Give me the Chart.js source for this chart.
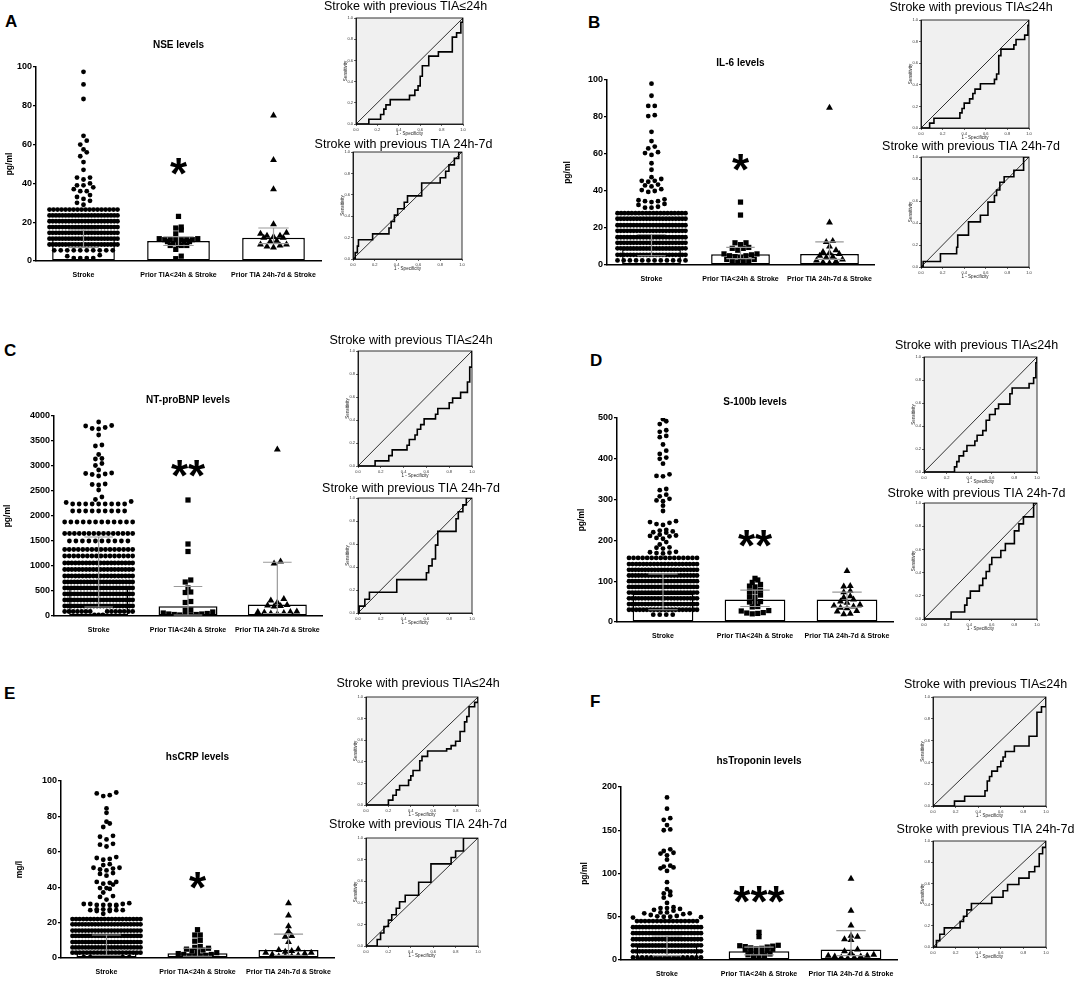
<!DOCTYPE html>
<html>
<head>
<meta charset="utf-8">
<script src="https://cdn.jsdelivr.net/npm/chart.js@4.4.1/dist/chart.umd.min.js"></script>
<style>
  body { margin: 0; background: #fff; width: 1074px; height: 1000px; position: relative; overflow: hidden; }
  .box { position: absolute; }
  .letter { position: absolute; font: bold 17px "Liberation Sans", Arial, sans-serif; line-height: 17px; color: #000; }
</style>
</head>
<body>
<div class="letter" style="left:5px;top:13px">A</div>
<div class="letter" style="left:588px;top:14px">B</div>
<div class="letter" style="left:4px;top:342px">C</div>
<div class="letter" style="left:590px;top:352px">D</div>
<div class="letter" style="left:4px;top:685px">E</div>
<div class="letter" style="left:590px;top:693px">F</div>

<script>
const groups = ['Stroke', 'Prior TIA<24h & Stroke', 'Prior TIA 24h-7d & Stroke'];

// NSE (pg/ml)
const nseStrokeOut = [97.5, 91, 83.5, 64.5, 62, 60, 57.5, 56, 54, 51, 47, 43, 43, 42, 40, 39, 39, 38, 37, 36, 36, 34, 33, 32, 31, 30, 29, 3, 2.5, 1.5, 1.5, 1.5, 1.5];
const nseStrokeRows = [[26.5, 18], [23.5, 22], [20.5, 22], [17.5, 22], [14.5, 22], [11.5, 22], [8.5, 22], [5.5, 10]];
const nseTia24 = [23, 17.5, 17, 16, 14, 11.5, 11.5, 11, 11, 11, 11, 11, 11, 10, 10, 10, 9, 8.5, 8, 8, 8, 6, 2.5, 1.2];
const nseTia7d = [75, 52, 37, 19, 14.5, 14, 13, 13, 12.5, 12, 12, 10.5, 10, 8.5, 8.5, 8, 7.5, 7];
const nseBars = [11.7, 10.3, 12];
const nseErrLo = [7, 8, 9];
const nseErrHi = [16, 12.5, 17];

// IL-6 (pg/ml)
const il6StrokeOut = [98, 91.5, 86, 86, 81, 80.5, 72, 67, 64, 63, 61, 60.5, 59.5, 55, 51.5, 47.5, 46.5, 45.5, 45.5, 45, 43.5, 43, 42.5, 41, 40.5, 40, 39.5, 35.5, 35, 34.5, 34.5, 34, 33, 32.5, 31.5, 31, 31];
const il6StrokeRows = [[28, 20], [25, 22], [21.5, 22], [18.5, 22], [15, 22], [12, 22], [9, 22], [5.5, 22], [2.5, 12]];
const il6Tia24 = [34, 27, 12, 12, 11, 9.5, 9, 9, 8, 6, 6, 5.5, 5, 5, 4.5, 4, 3, 3, 2, 2, 2, 1.5];
const il6Tia7d = [85, 23, 13, 12.5, 10, 8, 7, 6.5, 6, 5, 4.5, 4, 3, 2.5, 2, 1.5, 1];
const il6Bars = [8.5, 5.8, 6];
const il6ErrLo = [5, 3.5, 3];
const il6ErrHi = [16.5, 9.5, 12.5];

// NT-proBNP (pg/ml)
const bnpStrokeOut = [3880, 3810, 3800, 3770, 3750, 3740, 3620, 3420, 3400, 3230, 3150, 3140, 3050, 3010, 2920, 2860, 2850, 2840, 2830, 2800, 2640, 2630, 2620, 2520, 2380, 2330, 2290, 2270];
const bnpStrokeRows = [[2240, 9], [2100, 9], [1880, 12], [1650, 15], [1500, 10], [1330, 16], [1200, 16], [1060, 20], [930, 20], [800, 20], [680, 22], [560, 22], [440, 22], [320, 22], [200, 22], [90, 14], [20, 3]];
const bnpTia24 = [2320, 1440, 1290, 720, 680, 560, 480, 470, 290, 270, 120, 110, 80, 60, 50, 40, 40, 30, 30, 20, 20, 10];
const bnpTia7d = [3330, 1090, 1050, 340, 310, 270, 220, 210, 200, 190, 90, 80, 80, 70, 60, 50, 40];
const bnpBars = [550, 195, 230];
const bnpErrLo = [180, 20, 50];
const bnpErrHi = [1580, 590, 1075];

// S-100b (pg/ml)
const s100StrokeOut = [497, 492, 485, 470, 466, 456, 453, 435, 420, 412, 403, 400, 388, 362, 358, 357, 326, 323, 312, 308, 302, 298, 296, 285, 272, 247, 245, 243, 240, 238, 226, 224, 222, 220, 219, 214, 212, 211, 210, 206, 204, 196, 190, 183, 182, 180, 172, 171, 170, 169, 168];
const s100StrokeRows = [[157, 16], [142, 20], [128, 22], [114, 22], [100, 22], [86, 22], [72, 22], [58, 22], [44, 22], [30, 20], [18, 4]];
const s100Tia24 = [107, 103, 97, 92, 88, 86, 78, 75, 74, 66, 62, 60, 50, 49, 48, 38, 37, 28, 27, 23, 22, 21, 20];
const s100Tia7d = [125, 88, 87, 76, 73, 63, 60, 55, 50, 47, 42, 40, 38, 35, 34, 27, 26, 20, 19];
const s100Bars = [69, 55, 55];
const s100ErrLo = [30, 38, 36];
const s100ErrHi = [118, 78, 73];

// hsCRP (mg/l)
const crpStrokeOut = [93.5, 93, 92, 91.5, 84.5, 82, 77, 76, 74, 69, 68.5, 67, 64.5, 64, 63, 57, 56.5, 56, 55.5, 53, 52.5, 51, 51, 50.5, 50, 49.5, 48, 47.5, 46.5, 43, 43, 42.5, 42, 41.5, 39.5, 39.5, 39, 37, 35, 34.5, 33, 31, 30.5, 30.5, 30.5, 30, 30, 30, 30, 29.5, 27.5, 27.5, 27.5, 27, 27, 27, 26.5, 26.5, 25];
const crpStrokeRows = [[22, 20], [19, 22], [15.5, 22], [12.5, 22], [9, 22], [6, 22], [3, 20], [0.5, 8]];
const crpTia24 = [16, 13, 13, 10, 9.5, 6.5, 6, 5.5, 5, 4.5, 4, 3.5, 3, 2.5, 2, 2, 1.5, 1, 1, 1];
const crpTia7d = [31, 24, 18, 15, 12.5, 12, 9, 5, 4.5, 4, 3.5, 3, 3, 2.5, 2, 1.5, 1, 1, 1];
const crpBars = [4, 2.7, 4.5];
const crpErrLo = [1.5, 1, 1.5];
const crpErrHi = [13, 5.5, 13.5];

// hsTroponin (pg/ml)
const tropStrokeOut = [188, 175, 164, 162, 156, 151, 150, 128, 126, 124, 123, 121, 116, 109, 108, 107, 106, 103, 90, 82, 79, 77, 75, 72, 66, 61, 60, 60, 59, 58, 57, 55, 55, 54, 54, 53, 52, 51, 50.5, 50, 50, 49.5, 49];
const tropStrokeRows = [[45, 16], [38, 22], [31, 22], [24, 22], [17, 22], [10, 22], [3, 16]];
const tropTia24 = [32, 27, 17, 16.5, 16, 15.5, 15, 14, 13.5, 13, 12.5, 12, 11, 10, 9, 8, 7, 6, 5, 4, 3];
const tropTia7d = [94, 57, 40, 28, 27, 24, 23, 12, 10, 8, 6, 5, 5, 4, 4, 3, 3, 2];
const tropBars = [16, 10, 12];
const tropErrLo = [5, 6, 5];
const tropErrHi = [28, 15, 34];

// significance marks over the middle group
const starMarks = ['*', '*', '**', '**', '*', '***'];
const starLevels = [50, 57, 3000, 210, 45, 79];

// ROC curves: [1 - specificity, sensitivity] at each step
const rocNse24 = [[0,0],[0.12,0.045],[0.23,0.09],[0.26,0.14],[0.28,0.18],[0.32,0.23],[0.5,0.27],[0.55,0.32],[0.58,0.36],[0.6,0.45],[0.62,0.55],[0.68,0.64],[0.77,0.68],[0.9,0.82],[0.94,0.86],[0.98,0.96],[1,1]];
const rocNse7d = [[0,0],[0.02,0.06],[0.04,0.12],[0.05,0.18],[0.18,0.235],[0.33,0.29],[0.35,0.35],[0.38,0.41],[0.41,0.47],[0.47,0.53],[0.5,0.59],[0.63,0.71],[0.8,0.76],[0.85,0.82],[0.88,0.88],[0.93,0.94],[0.97,1],[1,1]];
const rocIl24 = [[0,0],[0.08,0.045],[0.12,0.09],[0.36,0.14],[0.38,0.18],[0.4,0.23],[0.45,0.27],[0.48,0.32],[0.5,0.36],[0.55,0.41],[0.68,0.45],[0.7,0.5],[0.72,0.67],[0.74,0.73],[0.86,0.77],[0.88,0.82],[0.96,0.86],[0.99,0.95],[1,1]];
const rocIl7d = [[0,0],[0.02,0.05],[0.18,0.12],[0.33,0.18],[0.34,0.29],[0.44,0.41],[0.55,0.47],[0.62,0.59],[0.68,0.65],[0.7,0.7],[0.73,0.77],[0.77,0.82],[0.86,0.88],[0.95,1],[1,1]];
const rocBnp24 = [[0,0],[0.15,0.045],[0.27,0.09],[0.3,0.14],[0.43,0.18],[0.45,0.23],[0.5,0.27],[0.52,0.32],[0.55,0.36],[0.58,0.41],[0.68,0.45],[0.7,0.5],[0.8,0.55],[0.83,0.59],[0.9,0.64],[0.96,0.73],[0.98,0.86],[1,1]];
const rocBnp7d = [[0,0],[0.01,0.06],[0.06,0.12],[0.1,0.18],[0.34,0.29],[0.6,0.35],[0.62,0.41],[0.65,0.47],[0.68,0.59],[0.7,0.71],[0.86,0.82],[0.88,0.88],[0.92,0.94],[0.95,1],[1,1]];
const rocS24 = [[0,0],[0.27,0.045],[0.29,0.09],[0.31,0.14],[0.35,0.18],[0.38,0.23],[0.45,0.27],[0.47,0.32],[0.52,0.36],[0.55,0.45],[0.58,0.5],[0.63,0.55],[0.66,0.59],[0.76,0.68],[0.78,0.73],[0.93,0.77],[0.97,0.82],[0.99,0.95],[1,1]];
const rocS7d = [[0,0],[0.24,0.06],[0.36,0.12],[0.38,0.18],[0.41,0.24],[0.49,0.29],[0.52,0.35],[0.55,0.41],[0.58,0.47],[0.6,0.53],[0.68,0.59],[0.72,0.65],[0.8,0.76],[0.84,0.82],[0.88,0.88],[0.97,1],[1,1]];
const rocCrp24 = [[0,0],[0.2,0.045],[0.24,0.09],[0.27,0.14],[0.3,0.18],[0.38,0.23],[0.4,0.27],[0.42,0.32],[0.48,0.41],[0.5,0.45],[0.55,0.5],[0.72,0.52],[0.76,0.55],[0.8,0.59],[0.84,0.68],[0.88,0.77],[0.9,0.82],[0.92,0.91],[0.97,0.95],[1,1]];
const rocCrp7d = [[0,0],[0.1,0.06],[0.13,0.12],[0.16,0.18],[0.2,0.24],[0.23,0.29],[0.27,0.35],[0.3,0.41],[0.35,0.47],[0.47,0.59],[0.58,0.76],[0.76,0.82],[0.8,0.88],[0.87,1],[1,1]];
const rocTrop24 = [[0,0],[0.19,0.045],[0.28,0.09],[0.46,0.14],[0.48,0.23],[0.5,0.27],[0.52,0.32],[0.57,0.36],[0.6,0.41],[0.62,0.45],[0.64,0.5],[0.72,0.55],[0.85,0.64],[0.92,0.86],[0.96,0.91],[1,1]];
const rocTrop7d = [[0,0],[0.03,0.06],[0.06,0.12],[0.1,0.18],[0.24,0.24],[0.27,0.29],[0.3,0.35],[0.34,0.41],[0.52,0.47],[0.62,0.53],[0.66,0.59],[0.76,0.65],[0.85,0.71],[0.9,0.76],[0.94,0.88],[0.97,0.94],[1,1]];

Chart.defaults.font.family = '"Liberation Sans", Arial, sans-serif';
Chart.defaults.color = '#000';
Chart.defaults.animation = false;

// text drawn relative to the plot area: panel titles and asterisks
const panelText = {
  id: 'panelText',
  afterDraw(chart, args, opts) {
    const { ctx, chartArea } = chart;
    ctx.save();
    ctx.fillStyle = '#000';
    ctx.textAlign = 'center';
    if (opts.title) {
      ctx.font = opts.titleFont;
      ctx.textBaseline = 'middle';
      ctx.fillText(opts.title, (chartArea.left + chartArea.right) / 2 + (opts.titleDx || 0), chartArea.top - opts.titleGap);
    }
    if (opts.stars) {
      const size = 44;
      ctx.font = 'bold ' + size + 'px "Liberation Sans", Arial, sans-serif';
      ctx.textBaseline = 'alphabetic';
      const x = chart.scales.x.getPixelForValue(1.5);
      const y = chart.scales.y.getPixelForValue(opts.starLevel);
      ctx.fillText(opts.stars, x, y + 0.57 * size);
    }
    ctx.restore();
  }
};

// grey plot area and frame for ROC charts
const rocFrame = {
  id: 'rocFrame',
  beforeDraw(chart) {
    const { ctx, chartArea: a } = chart;
    ctx.save();
    ctx.fillStyle = '#f0f0f0';
    ctx.fillRect(a.left, a.top, a.right - a.left, a.bottom - a.top);
    ctx.restore();
  },
  afterDatasetsDraw(chart) {
    const { ctx, chartArea: a } = chart;
    ctx.save();
    ctx.strokeStyle = '#000';
    ctx.lineWidth = 0.8;
    ctx.strokeRect(a.left, a.top, a.right - a.left, a.bottom - a.top);
    ctx.restore();
  }
};

function expand(out, rows) {
  return out.concat(rows.flatMap(([v, n]) => Array(n).fill(v)));
}

// column scatter: points with close values share a row, spread out from the centre
function swarm(vals, center, pyu, pxu, stepFor) {
  const sorted = vals.slice().sort((a, b) => a - b);
  const rows = [];
  let cur = null;
  sorted.forEach(v => {
    if (cur && (v - cur[0]) * pyu < 4) cur.push(v);
    else { cur = [v]; rows.push(cur); }
  });
  const pts = [];
  rows.forEach(r => {
    const n = r.length, st = stepFor(n);
    const slots = [];
    for (let j = 0; j < n; j++) slots.push((j - (n - 1) / 2) * st);
    slots.sort((a, b) => Math.abs(a) - Math.abs(b));
    r.forEach((v, i) => pts.push({ x: center + slots[i] / pxu, y: v }));
  });
  return pts;
}

function addBox(left, top, width, height) {
  const div = document.createElement('div');
  div.className = 'box';
  div.style.left = left + 'px';
  div.style.top = top + 'px';
  div.style.width = width + 'px';
  div.style.height = height + 'px';
  const cv = document.createElement('canvas');
  div.appendChild(cv);
  document.body.appendChild(div);
  return cv;
}

function makeScatter(p) {
  const [L, R, T, B] = p.plot;
  const padT = 40, xH = 16, padB = 2, padR = 12;
  const left = p.axisX - 5, top = T - padT;
  const yW = L - left;
  const cv = addBox(left, top, R + padR - left, padT + (B - T) + xH + padB);
  const pyu = (B - T) / p.yMax, pxu = (R - L) / 3;
  const stroke = swarm(p.stroke, 0.5, pyu, pxu, n => n <= 2 ? 6.5 : Math.max(3.1, Math.min(6.5, 68 / (n - 1))));
  const tia24 = swarm(p.tia24, 1.5, pyu, pxu, () => 5.5);
  const tia7d = swarm(p.tia7d, 2.5, pyu, pxu, () => 6.5);
  const err = [];
  [0.5, 1.5, 2.5].forEach((c, i) => {
    const lo = p.errLo[i], hi = p.errHi[i], w = 0.16;
    err.push({ x: c - w, y: hi }, { x: c + w, y: hi }, { x: c, y: null },
             { x: c, y: hi }, { x: c, y: lo }, { x: c, y: null },
             { x: c - w, y: lo }, { x: c + w, y: lo }, { x: c, y: null });
  });
  new Chart(cv, {
    type: 'bar',
    data: {
      datasets: [
        { type: 'bar', data: p.bars.map((v, i) => ({ x: i + 0.5, y: v })), backgroundColor: '#fff', borderColor: '#000', borderWidth: 1.5, borderSkipped: false, barPercentage: 0.66, categoryPercentage: 1, order: 3 },
        { type: 'scatter', data: stroke, pointStyle: 'circle', pointRadius: 2.4, backgroundColor: '#000', borderWidth: 0, order: 2 },
        { type: 'scatter', data: tia24, pointStyle: 'rect', pointRadius: 3.7, backgroundColor: '#000', borderWidth: 0, order: 2 },
        { type: 'scatter', data: tia7d, pointStyle: 'triangle', pointRadius: 4, backgroundColor: '#000', borderWidth: 0, order: 2 },
        { type: 'line', data: err, borderColor: '#9a9a9a', borderWidth: 1.2, pointRadius: 0, spanGaps: false, order: 1 }
      ]
    },
    options: {
      responsive: true,
      maintainAspectRatio: false,
      layout: { padding: { left: 0, top: padT, right: padR, bottom: padB } },
      plugins: {
        legend: { display: false },
        tooltip: { enabled: false },
        panelText: { title: p.title, titleFont: 'bold 10px "Liberation Sans", Arial, sans-serif', titleGap: T - p.titleY, stars: p.stars, starLevel: p.starLevel }
      },
      scales: {
        x: {
          type: 'linear', min: 0, max: 3, offset: false,
          afterBuildTicks: s => { s.ticks = [0.5, 1.5, 2.5].map(v => ({ value: v })); },
          afterFit: s => { s.height = xH; },
          ticks: { callback: v => groups[Math.floor(v)], font: { size: 7, weight: 'bold' }, color: '#000', maxRotation: 0, autoSkip: false, padding: 2 },
          grid: { display: false },
          border: { color: '#000', width: 1.5 }
        },
        y: {
          min: 0, max: p.yMax,
          afterFit: s => { s.width = yW; },
          ticks: { stepSize: p.step, font: { size: 9, weight: 'bold' }, color: '#000', padding: 1, callback: v => String(v) },
          grid: { drawOnChartArea: false, color: '#000', tickLength: 3, lineWidth: 1.2 },
          border: { color: '#000', width: 1.5 },
          title: { display: true, text: p.unit, font: { size: 8.5, weight: 'bold' }, color: '#000', padding: 0 }
        }
      }
    },
    plugins: [panelText]
  });
}

function makeRoc(box, titleY, title, pts) {
  const [L, R, T, B] = box;
  const padL = 40, padR = 45, padT = 20, padB = 2, yW = 14, xH = 13;
  const left = L - yW - padL, top = T - padT;
  const cv = addBox(left, top, padL + yW + (R - L) + padR, padT + (B - T) + xH + padB);
  const tickFont = { size: 4 };
  new Chart(cv, {
    type: 'line',
    data: {
      datasets: [
        { data: [{ x: 0, y: 0 }, { x: 1, y: 1 }], borderColor: '#000', borderWidth: 0.8, pointRadius: 0 },
        { data: pts.map(([x, y]) => ({ x, y })), borderColor: '#000', borderWidth: 1.6, pointRadius: 0, stepped: 'before' }
      ]
    },
    options: {
      responsive: true,
      maintainAspectRatio: false,
      layout: { padding: { left: padL, top: padT, right: padR, bottom: padB } },
      plugins: {
        legend: { display: false },
        tooltip: { enabled: false },
        panelText: { title: title, titleFont: '12.5px "Liberation Sans", Arial, sans-serif', titleGap: T - titleY, titleDx: -4 }
      },
      scales: {
        x: {
          type: 'linear', min: 0, max: 1,
          afterFit: s => { s.height = xH; },
          ticks: { stepSize: 0.2, font: tickFont, color: '#333', padding: 1, callback: v => v.toFixed(1) },
          grid: { drawOnChartArea: false, color: '#000', tickLength: 2, lineWidth: 0.6 },
          border: { color: '#000', width: 0.8 },
          title: { display: true, text: '1 - Specificity', font: { size: 4.5 }, color: '#222', padding: 1 }
        },
        y: {
          type: 'linear', min: 0, max: 1,
          afterFit: s => { s.width = yW; },
          ticks: { stepSize: 0.2, font: tickFont, color: '#333', padding: 1, callback: v => v.toFixed(1) },
          grid: { drawOnChartArea: false, color: '#000', tickLength: 2, lineWidth: 0.6 },
          border: { color: '#000', width: 0.8 },
          title: { display: true, text: 'Sensitivity', font: { size: 4.5 }, color: '#222', padding: 1 }
        }
      }
    },
    plugins: [panelText, rocFrame]
  });
}

const scatterPanels = [
  { plot: [36, 321, 67, 261], titleY: 45, axisX: 10, yMax: 100, step: 20, title: 'NSE levels', unit: 'pg/ml',
    stroke: expand(nseStrokeOut, nseStrokeRows), tia24: nseTia24, tia7d: nseTia7d, bars: nseBars, errLo: nseErrLo, errHi: nseErrHi },
  { plot: [607, 874, 80, 265], titleY: 63, axisX: 568, yMax: 100, step: 20, title: 'IL-6 levels', unit: 'pg/ml',
    stroke: expand(il6StrokeOut, il6StrokeRows), tia24: il6Tia24, tia7d: il6Tia7d, bars: il6Bars, errLo: il6ErrLo, errHi: il6ErrHi },
  { plot: [54, 322, 416, 616], titleY: 400, axisX: 8, yMax: 4000, step: 500, title: 'NT-proBNP levels', unit: 'pg/ml',
    stroke: expand(bnpStrokeOut, bnpStrokeRows), tia24: bnpTia24, tia7d: bnpTia7d, bars: bnpBars, errLo: bnpErrLo, errHi: bnpErrHi },
  { plot: [617, 893, 418, 622], titleY: 402, axisX: 582, yMax: 500, step: 100, title: 'S-100b levels', unit: 'pg/ml',
    stroke: expand(s100StrokeOut, s100StrokeRows), tia24: s100Tia24, tia7d: s100Tia7d, bars: s100Bars, errLo: s100ErrLo, errHi: s100ErrHi },
  { plot: [61, 334, 781, 958], titleY: 757, axisX: 20, yMax: 100, step: 20, title: 'hsCRP levels', unit: 'mg/l',
    stroke: expand(crpStrokeOut, crpStrokeRows), tia24: crpTia24, tia7d: crpTia7d, bars: crpBars, errLo: crpErrLo, errHi: crpErrHi },
  { plot: [621, 897, 787, 960], titleY: 761, axisX: 585, yMax: 200, step: 50, title: 'hsTroponin levels', unit: 'pg/ml',
    stroke: expand(tropStrokeOut, tropStrokeRows), tia24: tropTia24, tia7d: tropTia7d, bars: tropBars, errLo: tropErrLo, errHi: tropErrHi }
];
scatterPanels.forEach((p, i) => { p.stars = starMarks[i]; p.starLevel = starLevels[i]; makeScatter(p); });

const t24 = 'Stroke with previous TIA\u226424h';
const t7d = 'Stroke with previous TIA 24h-7d';
makeRoc([356, 463, 18, 124], 7, t24, rocNse24);
makeRoc([353, 462, 152, 259], 145, t7d, rocNse7d);
makeRoc([921, 1029, 20, 128], 8, t24, rocIl24);
makeRoc([921, 1029, 157, 267], 147, t7d, rocIl7d);
makeRoc([358, 472, 351, 466], 341, t24, rocBnp24);
makeRoc([358, 472, 498, 613], 489, t7d, rocBnp7d);
makeRoc([924, 1037, 357, 472], 346, t24, rocS24);
makeRoc([924, 1037, 503, 619], 494, t7d, rocS7d);
makeRoc([366, 478, 697, 805], 684, t24, rocCrp24);
makeRoc([366, 478, 838, 946], 825, t7d, rocCrp7d);
makeRoc([933, 1046, 697, 806], 685, t24, rocTrop24);
makeRoc([933, 1046, 841, 947], 830, t7d, rocTrop7d);
</script>
</body>
</html>
